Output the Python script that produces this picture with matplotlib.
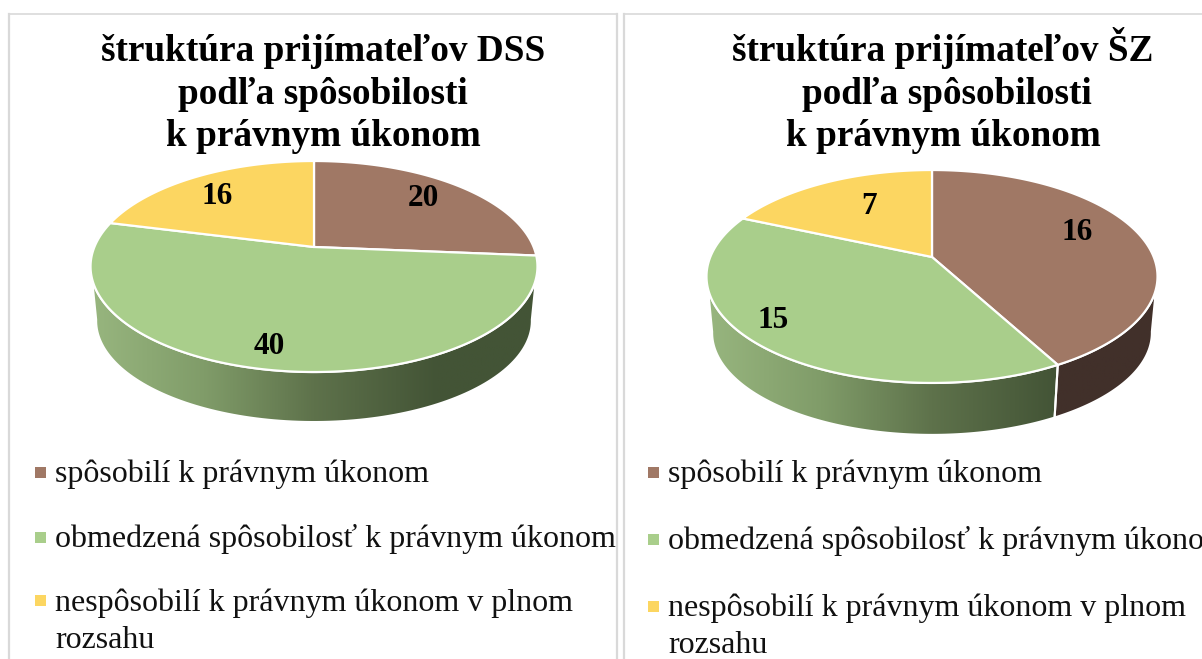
import matplotlib
matplotlib.use('Agg')
import matplotlib.pyplot as plt
from matplotlib.colors import LinearSegmentedColormap
from matplotlib.patches import Polygon
import numpy

legend_labels = ['spôsobilí k právnym úkonom',
                 'obmedzená spôsobilosť k právnym úkonom',
                 'nespôsobilí k právnym úkonom v plnom\nrozsahu']
dss_values = [20, 40, 16]
sz_values = [16, 15, 7]
dss_title = 'štruktúra prijímateľov DSS\npodľa spôsobilosti\nk právnym úkonom'
sz_title = 'štruktúra prijímateľov ŠZ\npodľa spôsobilosti\nk právnym úkonom'

colors = ['#A07865', '#A9CE8B', '#FCD661']
grey = '#D9D9D9'
serif = 'Liberation Serif'

green_wall = LinearSegmentedColormap.from_list(
    'green_wall', [(0, '#97B57E'), (0.25, '#809C69'), (0.5, '#5E724B'), (0.78, '#435436'), (1, '#435436')])
brown_wall = LinearSegmentedColormap.from_list('brown_wall', ['#41302A', '#41302A'])
yellow_wall = LinearSegmentedColormap.from_list('yellow_wall', ['#8A7435', '#8A7435'])
wall_maps = [brown_wall, green_wall, yellow_wall]

fig = plt.figure(figsize=(12.02, 6.59), dpi=100)
ax = fig.add_axes([0, 0, 1, 1])


# puts a point of the tilted disc on the page, angle clockwise from the top
def project(geo, deg):
    cx, cy, a, h, k = geo
    t = numpy.radians(deg)
    u = numpy.sin(t)
    v = numpy.cos(t)
    w = 1 + k * v
    return cx + a * u / w, cy - h * v / w


# same disc, moved down and a little smaller, for the bottom edge of the wall
def project_low(geo, deg, depth):
    cx, cy = geo[0], geo[1]
    x, y = project(geo, deg)
    return cx + 0.975 * (x - cx), cy + depth + 0.96 * (y - cy)


def draw_wall(geo, depth, start, end, cmap, x_range):
    top = numpy.linspace(max(start, 107), min(end, 253), 120)
    low_start = start if start > 107 else 100
    low_end = end if end < 253 else 260
    low = numpy.linspace(low_start, low_end, 120)
    tx, ty = project(geo, top)
    lx, ly = project_low(geo, low, depth)
    pts = numpy.column_stack([numpy.r_[tx, lx[::-1]], numpy.r_[ty, ly[::-1]]])
    outline = Polygon(pts, closed=True, facecolor='none', edgecolor='white', lw=1.5, zorder=3)
    ax.add_patch(outline)
    gradient = numpy.linspace(0, 1, 256).reshape(1, -1)
    img = ax.imshow(gradient, cmap=cmap, aspect='auto', zorder=2,
                    extent=[x_range[0], x_range[1], geo[1] + 200, geo[1]])
    clip = Polygon(pts, closed=True, transform=ax.transData)
    img.set_clip_path(clip)


def draw_pie(values, geo, depth):
    cx, cy = geo[0], geo[1]
    edges = numpy.cumsum([0] + values) * 360.0 / sum(values)
    left = project(geo, 270)[0]
    right = project(geo, 90)[0]
    for i in range(len(values)):
        start, end = edges[i], edges[i + 1]
        if end > 100 and start < 260:
            draw_wall(geo, depth, start, end, wall_maps[i], (left, right))
        arc = numpy.linspace(start, end, 200)
        x, y = project(geo, arc)
        pts = numpy.column_stack([numpy.r_[cx, x], numpy.r_[cy, y]])
        ax.add_patch(Polygon(pts, closed=True, facecolor=colors[i], edgecolor='white',
                             lw=1.6, joinstyle='round', zorder=4))


def draw_panel(title, title_x, values, geo, depth, value_pos, key_x, text_x, key_y, base_y):
    draw_pie(values, geo, depth)
    lines = title.split('\n')
    title_base = [61, 103.5, 146]
    for j in range(len(lines)):
        ax.text(title_x[j], title_base[j], lines[j], family=serif, weight='bold', fontsize=26.8,
                color='black', ha='center', va='baseline', zorder=6)
    for value, pos in zip(values, value_pos):
        ax.text(pos[0], pos[1], str(value), family=serif, weight='bold', fontsize=22.5,
                color='black', ha='center', va='center', zorder=6)
    for i in range(len(legend_labels)):
        ax.add_patch(Polygon([(key_x, key_y[i] - 5.5), (key_x + 11, key_y[i] - 5.5),
                              (key_x + 11, key_y[i] + 5.5), (key_x, key_y[i] + 5.5)],
                             closed=True, facecolor=colors[i], edgecolor='none', zorder=5))
        parts = legend_labels[i].split('\n')
        for j in range(len(parts)):
            ax.text(text_x, base_y[i] + 37 * j, parts[j], family=serif, fontsize=23.05,
                    color='#111111', ha='left', va='baseline', zorder=6)


# panel frames
ax.plot([9, 9], [659, 14], color=grey, lw=1.6)
ax.plot([9, 617], [14, 14], color=grey, lw=1.2)
ax.plot([617, 617], [14, 659], color=grey, lw=1.6)
ax.plot([624, 624], [659, 14], color=grey, lw=1.6)
ax.plot([624, 1202], [14, 14], color=grey, lw=1.2)

draw_panel(dss_title, [323, 323, 323], dss_values, (314, 247, 219.6, 101.9, 0.185), 55,
           [(423, 198), (269, 346), (217, 197)], 35, 55, [472, 537, 600], [482, 547, 611])
draw_panel(sz_title, [943, 946.5, 943], sz_values, (932, 257, 221.7, 102.9, 0.183), 57,
           [(1077, 232), (773, 321), (869, 206)], 648, 668, [472, 539, 606], [482, 549, 616])

ax.set_xlim(0, 1202)
ax.set_ylim(659, 0)
ax.axis('off')

fig.savefig('out.png', dpi=100)
